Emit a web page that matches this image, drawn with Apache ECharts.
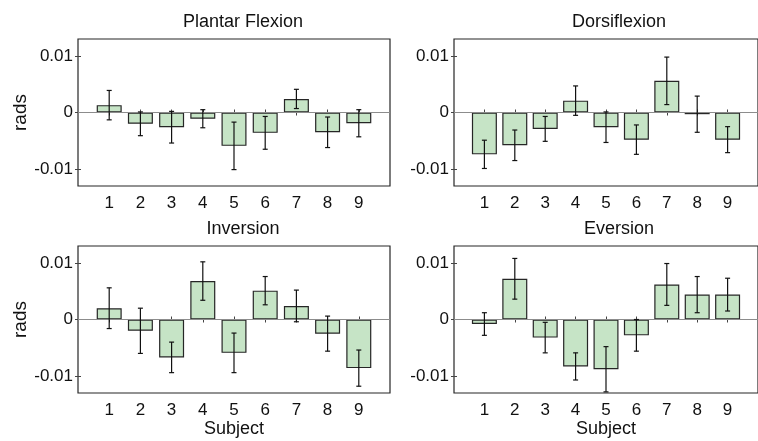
<!DOCTYPE html>
<html lang="en">
<head>
<meta charset="UTF-8">
<title>Ankle rotation by subject</title>
<script src="https://cdn.jsdelivr.net/npm/echarts@6/dist/echarts.min.js"></script>
<style>
  body { margin: 0; padding: 0; background: #fff; }
  #main { width: 758px; height: 441px; }
</style>
</head>
<body>
<div id="main"></div>
<script>
// subjects and per-panel mean / error (rads)
var subjects = [1, 2, 3, 4, 5, 6, 7, 8, 9];
var panelTitles = ['Plantar Flexion', 'Dorsiflexion', 'Inversion', 'Eversion'];
var yTicks = [-0.01, 0, 0.01];

var pfMean = [0.0013, -0.0020, -0.0026, -0.0011, -0.0059, -0.0036, 0.0024, -0.0035, -0.0019];
var pfErr  = [0.0026, 0.0021, 0.0028, 0.0016, 0.0042, 0.0029, 0.0017, 0.0027, 0.0024];
var dfMean = [-0.0074, -0.0058, -0.0029, 0.0021, -0.0026, -0.0048, 0.0056, -0.0003, -0.0048];
var dfErr  = [0.0025, 0.0027, 0.0022, 0.0026, 0.0027, 0.0026, 0.0042, 0.0032, 0.0023];
var invMean = [0.0020, -0.0020, -0.0067, 0.0068, -0.0059, 0.0051, 0.0024, -0.0025, -0.0086];
var invErr  = [0.0036, 0.0040, 0.0027, 0.0034, 0.0035, 0.0025, 0.0028, 0.0031, 0.0032];
var evMean = [-0.0008, 0.0072, -0.0032, -0.0083, -0.0088, -0.0028, 0.0062, 0.0044, 0.0044];
var evErr  = [0.0020, 0.0036, 0.0027, 0.0024, 0.0040, 0.0028, 0.0037, 0.0032, 0.0029];

var means = [pfMean, dfMean, invMean, evMean];
var errs = [pfErr, dfErr, invErr, evErr];

var FONT = 'Liberation Sans';
var INK = '#111';
var boxes = [
  { left: 78, top: 39 },
  { left: 454, top: 39 },
  { left: 78, top: 246 },
  { left: 454, top: 246 }
];
var W = 312, H = 147;

var grids = [], xAxes = [], yAxes = [], series = [], titles = [];

boxes.forEach(function (b, i) {
  grids.push({ left: b.left, top: b.top, width: W, height: H, show: true,
    borderColor: '#262626', borderWidth: 1.2, backgroundColor: 'transparent', containLabel: false });

  titles.push({ text: panelTitles[i], left: b.left + W / 2 + 4, top: b.top - 31, textAlign: 'center',
    textStyle: { fontFamily: FONT, fontSize: 18, fontWeight: 'normal', color: INK } });

  var bottomRow = i >= 2;
  xAxes.push({
    type: 'value', gridIndex: i, min: 0, max: 10, position: 'bottom',
    axisLine: { show: false }, splitLine: { show: false },
    axisTick: { show: true, inside: true, length: 3, customValues: subjects, lineStyle: { color: '#444' } },
    axisLabel: { customValues: subjects, fontFamily: FONT, fontSize: 17, color: INK, margin: 9 },
    name: bottomRow ? 'Subject' : '', nameLocation: 'middle', nameGap: 24,
    nameTextStyle: { fontFamily: FONT, fontSize: 18, color: INK }
  });
  xAxes.push({
    type: 'value', gridIndex: i, min: 0, max: 10, position: 'top',
    axisLine: { show: false }, splitLine: { show: false }, axisLabel: { show: false },
    axisTick: { show: true, inside: true, length: 3, customValues: subjects, lineStyle: { color: '#444' } }
  });
  var leftCol = i % 2 === 0;
  yAxes.push({
    type: 'value', gridIndex: i, min: -0.013, max: 0.013, position: 'left',
    axisLine: { show: false }, splitLine: { show: false },
    axisTick: { show: true, inside: true, length: 3, customValues: yTicks, lineStyle: { color: '#444' } },
    axisLabel: { customValues: yTicks, fontFamily: FONT, fontSize: 17, color: INK, margin: 5,
      formatter: function (v) { return v === 0 ? '0' : (v > 0 ? '0.01' : '-0.01'); } },
    name: leftCol ? 'rads' : '', nameLocation: 'middle', nameGap: 47,
    nameTextStyle: { fontFamily: FONT, fontSize: 19, color: INK }
  });
  yAxes.push({
    type: 'value', gridIndex: i, min: -0.013, max: 0.013, position: 'right',
    axisLine: { show: false }, splitLine: { show: false }, axisLabel: { show: false },
    axisTick: { show: true, inside: true, length: 3, customValues: yTicks, lineStyle: { color: '#444' } }
  });

  var barData = subjects.map(function (s, k) { return [s, means[i][k]]; });
  var errData = subjects.map(function (s, k) { return [s, means[i][k], errs[i][k]]; });

  series.push({
    type: 'bar', xAxisIndex: i * 2, yAxisIndex: i * 2, data: barData, barWidth: 25,
    itemStyle: { color: '#c6e4c6', borderColor: '#262626', borderWidth: 1.2 },
    silent: true, animation: false,
    markLine: { silent: true, symbol: 'none', label: { show: false }, animation: false,
      lineStyle: { color: '#8c8c8c', width: 1, type: 'solid' }, data: [{ yAxis: 0 }] }
  });
  series.push({
    type: 'custom', xAxisIndex: i * 2, yAxisIndex: i * 2, data: errData, z: 5,
    silent: true, animation: false,
    renderItem: function (params, api) {
      var x = api.value(0), m = api.value(1), e = api.value(2);
      var hi = api.coord([x, m + e]), lo = api.coord([x, m - e]);
      var style = { stroke: '#111', lineWidth: 1.2 };
      return { type: 'group', children: [
        { type: 'line', shape: { x1: hi[0], y1: hi[1], x2: lo[0], y2: lo[1] }, style: style },
        { type: 'line', shape: { x1: hi[0] - 2.5, y1: hi[1], x2: hi[0] + 2.5, y2: hi[1] }, style: style },
        { type: 'line', shape: { x1: lo[0] - 2.5, y1: lo[1], x2: lo[0] + 2.5, y2: lo[1] }, style: style }
      ] };
    }
  });
});

var chart = echarts.init(document.getElementById('main'));
chart.setOption({
  animation: false,
  title: titles,
  grid: grids,
  xAxis: xAxes,
  yAxis: yAxes,
  series: series
});
</script>
</body>
</html>
